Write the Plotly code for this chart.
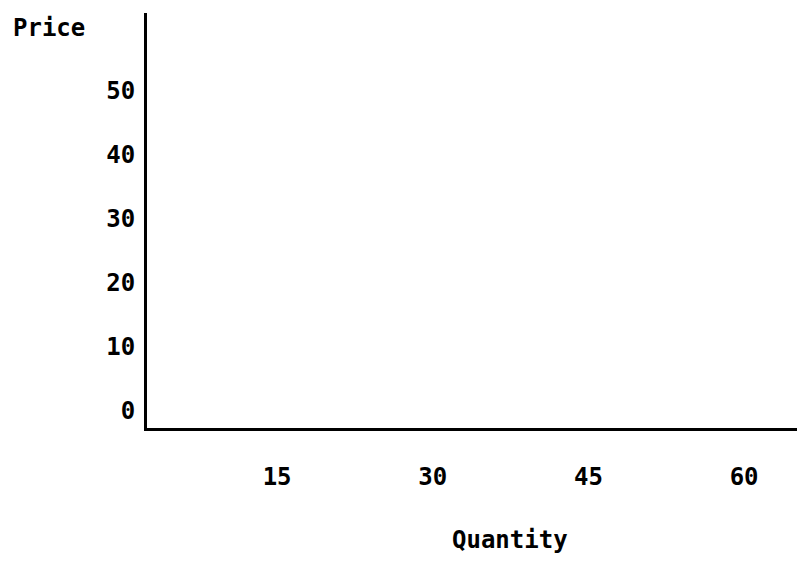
import plotly.graph_objects as go

x_ticks = [15, 30, 45, 60]
y_ticks = [0, 10, 20, 30, 40, 50]
x_title = "Quantity"
y_title = "Price"

FONT = "DejaVu Sans Mono"

fig = go.Figure()
fig.add_trace(go.Scatter(x=[], y=[], mode="lines", showlegend=False))

fig.update_layout(
    width=797, height=562,
    margin=dict(l=147, r=0, t=13, b=134),
    paper_bgcolor="white", plot_bgcolor="white",
    font=dict(family=FONT, size=24, color="black", weight="bold"),
    xaxis=dict(
        range=[2.46, 65.1], tickvals=x_ticks, ticktext=[str(v) for v in x_ticks],
        showgrid=False, zeroline=False, showline=True, linecolor="black", linewidth=3,
        ticks="", ticklabelstandoff=25,
        tickfont=dict(family=FONT, size=24, color="black", weight="bold"),
    ),
    yaxis=dict(
        range=[-2.7, 62.1], tickvals=y_ticks, ticktext=[str(v) for v in y_ticks],
        showgrid=False, zeroline=False, showline=True, linecolor="black", linewidth=3,
        ticks="", ticklabelstandoff=4,
        tickfont=dict(family=FONT, size=24, color="black", weight="bold"),
    ),
    annotations=[
        dict(text=x_title, xref="paper", yref="paper", x=0.558, y=-0.27,
             showarrow=False, xanchor="center", yanchor="middle",
             font=dict(family=FONT, size=24, color="black", weight="bold")),
        dict(text=y_title, xref="paper", yref="paper", x=-0.151, y=0.964,
             showarrow=False, xanchor="center", yanchor="middle",
             font=dict(family=FONT, size=24, color="black", weight="bold")),
    ],
)

fig.write_html(
    "out.html",
    config={"displayModeBar": False},
    post_script="document.body.style.margin='0';document.body.style.overflow='hidden';",
)
